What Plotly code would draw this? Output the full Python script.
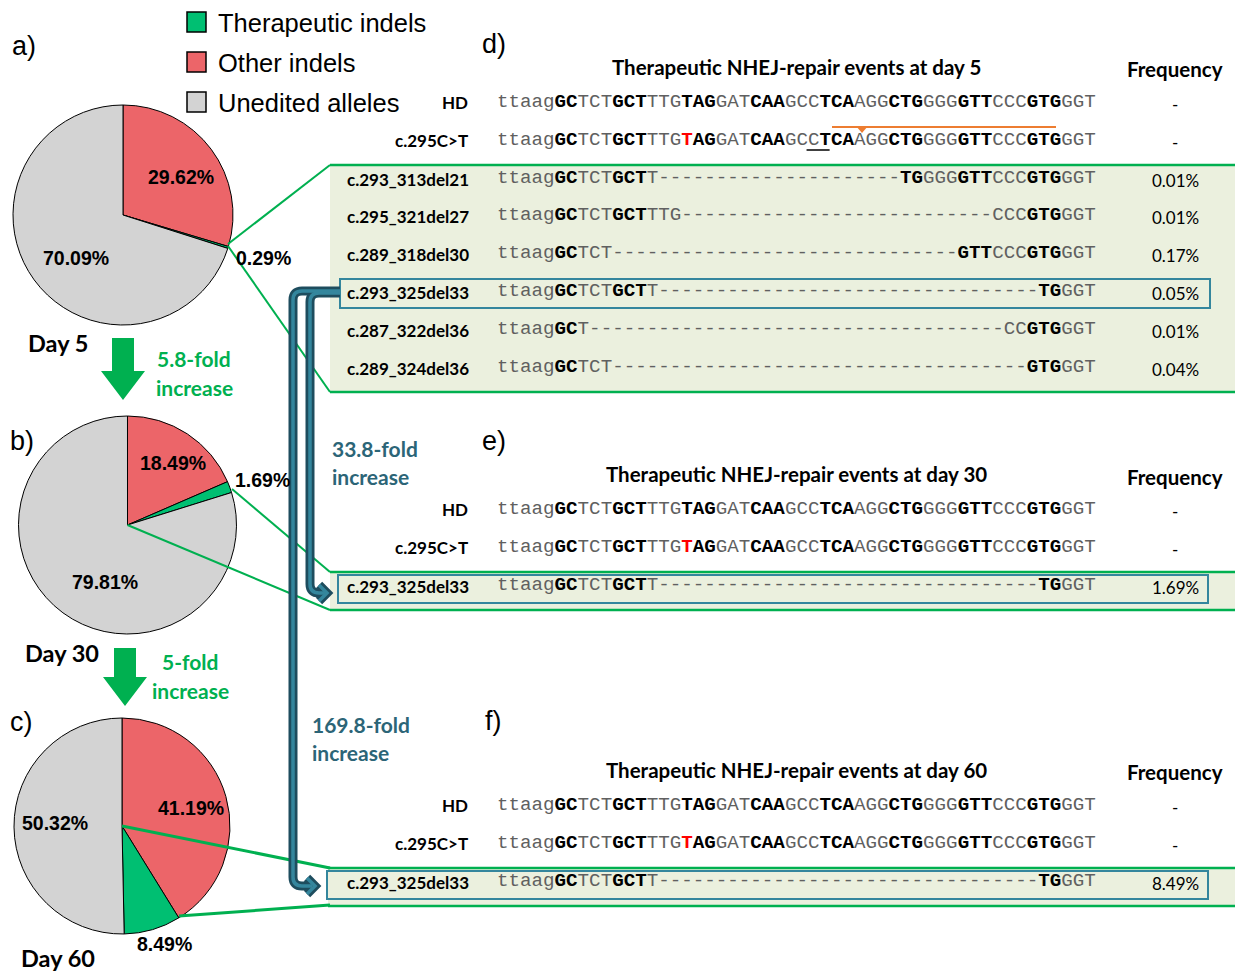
import plotly.graph_objects as go

# ---------------- data ----------------
slice_names = ["Other indels", "Therapeutic indels", "Unedited alleles"]
other_pct = [29.62, 18.49, 41.19]
thera_pct = [0.29, 1.69, 8.49]
unedited_pct = [70.09, 79.81, 50.32]
day_labels = ["Day 5", "Day 30", "Day 60"]
panel_letters = ["a)", "b)", "c)", "d)", "e)", "f)"]
legend_labels = ["Therapeutic indels", "Other indels", "Unedited alleles"]
fold_day_lines = [["5.8-fold", "increase"], ["5-fold", "increase"]]
fold_del33_lines = [["33.8-fold", "increase"], ["169.8-fold", "increase"]]

hd_seq = "ttaagGCTCTGCTTTGTAGGATCAAGCCTCAAGGCTGGGGGTTCCCGTGGGT"
mut_seq = "ttaagGCTCTGCTTTGTAGGATCAAGCCTCAAGGCTGGGGGTTCCCGTGGGT"
mut_pos = 16
ref_labels = ["HD", "c.295C>T"]
ref_freq = ["-", "-"]

d5_labels = ["c.293_313del21", "c.295_321del27", "c.289_318del30",
             "c.293_325del33", "c.287_322del36", "c.289_324del36"]
d5_seqs = [
    "ttaagGCTCTGCTT" + "-" * 21 + "TGGGGGTTCCCGTGGGT",
    "ttaagGCTCTGCTTTG" + "-" * 27 + "CCCGTGGGT",
    "ttaagGCTCT" + "-" * 30 + "GTTCCCGTGGGT",
    "ttaagGCTCTGCTT" + "-" * 33 + "TGGGT",
    "ttaagGCT" + "-" * 36 + "CCGTGGGT",
    "ttaagGCTCT" + "-" * 36 + "GTGGGT",
]
d5_freq = ["0.01%", "0.01%", "0.17%", "0.05%", "0.01%", "0.04%"]
del33_label = "c.293_325del33"
del33_seq = "ttaagGCTCTGCTT" + "-" * 33 + "TGGGT"
d30_freq = "1.69%"
d60_freq = "8.49%"
titles = ["Therapeutic NHEJ-repair events at day 5",
          "Therapeutic NHEJ-repair events at day 30",
          "Therapeutic NHEJ-repair events at day 60"]
freq_header = "Frequency"

# ---------------- styles ----------------
RED = "#EC6569"
GREEN = "#00BF72"
GREY = "#D3D3D3"
ARROW_GREEN = "#00B050"
TEAL_TXT = "#2C6577"
TEAL_DARK = "#1E4D5E"
TEAL_LIGHT = "#34869D"
BOX_FILL = "#EBF0DE"
SANS = "Liberation Sans"
CAL = "Lato"
MONO = "Liberation Mono"
W, H = 1235, 971

bold_spans = [(5, 7), (10, 13), (16, 19), (22, 25), (28, 31), (34, 37), (40, 43), (46, 49)]
bold_set = set()
for a, b in bold_spans:
    bold_set.update(range(a, b))


def seq_markup(seq, red_idx=None):
    parts = []
    cur_key, cur = None, ""
    for i, ch in enumerate(seq):
        if ch == "-":
            key = "reg"
        elif red_idx is not None and i == red_idx:
            key = "red"
        elif i in bold_set:
            key = "bold"
        else:
            key = "reg"
        if key != cur_key and cur:
            parts.append((cur_key, cur))
            cur = ""
        cur_key = key
        cur += ch
    parts.append((cur_key, cur))
    out = ""
    for k, t in parts:
        if k == "bold":
            out += "<b>" + t + "</b>"
        elif k == "red":
            out += "<span style='color:#FF0000'><b>" + t + "</b></span>"
        else:
            out += "<span style='color:#606060'>" + t + "</span>"
    return out


fig = go.Figure()

# ---------------- pies ----------------
pie_geo = [(123, 215, 110), (127.5, 525, 109), (122, 826, 108)]
for k, (cx, cy, r) in enumerate(pie_geo):
    fig.add_trace(go.Pie(
        values=[other_pct[k], thera_pct[k], unedited_pct[k]],
        labels=slice_names,
        sort=False, direction="clockwise", rotation=0,
        marker=dict(colors=[RED, GREEN, GREY], line=dict(color="black", width=1)),
        textinfo="none", hoverinfo="skip", showlegend=False,
        domain=dict(x=[(cx - r) / W, (cx + r) / W], y=[1 - (cy + r) / H, 1 - (cy - r) / H]),
    ))

fig.add_trace(go.Scatter(x=[0, W], y=[0, H], mode="markers", marker=dict(opacity=0),
                         hoverinfo="skip", showlegend=False))

shapes = []
ann = []


def text(x, y, s, size, family=SANS, color="black", xanchor="center", yanchor="middle", bold=False):
    ann.append(dict(x=x, y=y, xref="x", yref="y", text=("<b>%s</b>" % s) if bold else s,
                    showarrow=False, xanchor=xanchor, yanchor=yanchor,
                    font=dict(size=size, family=family, color=color)))


def line(x0, y0, x1, y1, color, width):
    shapes.append(dict(type="line", x0=x0, y0=y0, x1=x1, y1=y1, xref="x", yref="y",
                       line=dict(color=color, width=width)))


def rect(x0, y0, x1, y1, fill=None, color=None, width=0, layer="above"):
    shapes.append(dict(type="rect", x0=x0, y0=y0, x1=x1, y1=y1, xref="x", yref="y",
                       fillcolor=fill if fill else "rgba(0,0,0,0)",
                       line=dict(color=color if color else "rgba(0,0,0,0)", width=width),
                       layer=layer))


def path(p, color, width, fill=None):
    shapes.append(dict(type="path", path=p, xref="x", yref="y",
                       line=dict(color=color, width=width),
                       fillcolor=fill if fill else "rgba(0,0,0,0)"))


# ---------------- legend ----------------
leg_cols = [GREEN, RED, GREY]
for i, lab in enumerate(legend_labels):
    y = 22 + 40 * i
    rect(187, y - 10, 206, y + 10, fill=leg_cols[i], color="black", width=1.5)
    text(216, y + 1, lab, 25.5, xanchor="left")

# panel letters
for lab, (x, y) in zip(panel_letters, [(10, 46), (8, 441), (8, 722), (480, 44), (480, 441), (483, 721)]):
    text(x, y, lab, 27, xanchor="left")

# pie labels (order: other, therapeutic, unedited)
pct_pos = [[(181, 177), (263, 258), (76, 258)],
           [(173, 463), (262, 480), (105, 582)],
           [(191, 808), (164, 944), (55, 823)]]
for k in range(3):
    vals = [other_pct[k], thera_pct[k], unedited_pct[k]]
    for v, (x, y) in zip(vals, pct_pos[k]):
        text(x, y, "%.2f%%" % v, 19.5, bold=True)

for lab, (x, y) in zip(day_labels, [(58, 343), (62, 653), (58, 958)]):
    text(x, y, lab, 23.5, family=CAL, bold=True)

# green down arrows
for (sx, y0, tip) in [(112, 338, 400), (114, 648, 706)]:
    hy = tip - 29
    path("M %d %d L %d %d L %d %d L %d %d L %d %d L %d %d L %d %d Z" % (
        sx, y0, sx + 22, y0, sx + 22, hy, sx + 33, hy, sx + 11, tip, sx - 11, hy, sx, hy),
        ARROW_GREEN, 0, fill=ARROW_GREEN)

for lines_, (x, y) in zip(fold_day_lines, [(194, 358), (190, 661)]):
    text(x, y, lines_[0], 21, family=CAL, color=ARROW_GREEN, bold=True)
    text(x, y + 29, lines_[1], 21, family=CAL, color=ARROW_GREEN, bold=True)

for lines_, (x, y) in zip(fold_del33_lines, [(330, 448), (310, 724)]):
    text(x, y, lines_[0], 21, family=CAL, color=TEAL_TXT, xanchor="left", bold=True)
    text(x, y + 28, lines_[1], 21, family=CAL, color=TEAL_TXT, xanchor="left", bold=True)

# ---------------- tables ----------------
SEQ_X = 495
CH = 600 / 52.0
FREQ_X = 1175

rect(330, 165, W + 5, 392, fill=BOX_FILL, layer="below")
rect(330, 572, W + 5, 610, fill=BOX_FILL, layer="below")
rect(328, 868, W + 5, 906, fill=BOX_FILL, layer="below")
for (x0, y0, y1) in [(330, 165, 392), (330, 572, 610), (328, 868, 906)]:
    line(x0, y0, W + 5, y0, ARROW_GREEN, 2.5)
    line(x0, y1, W + 5, y1, ARROW_GREEN, 2.5)

rect(340, 279, 1210, 308, color=TEAL_LIGHT, width=2)
rect(338, 575, 1208, 603, color=TEAL_LIGHT, width=2)
rect(327, 871, 1208, 899, color=TEAL_LIGHT, width=2)

line(228, 244, 330, 165, ARROW_GREEN, 2)
line(228, 246, 330, 392, ARROW_GREEN, 2)
line(232, 489, 330, 572, ARROW_GREEN, 2)
line(127.5, 525, 330, 610, ARROW_GREEN, 2)
line(122, 826, 330, 868, ARROW_GREEN, 3)
line(179, 916, 330, 905, ARROW_GREEN, 3)

title_y = [67, 474, 770]
freq_y = [69, 477, 772]
ref_y = [(102, 140), (509, 547), (805, 843)]
for k in range(3):
    text(796, title_y[k], titles[k], 20.5, family=CAL, bold=True)
    text(FREQ_X, freq_y[k], freq_header, 20.5, family=CAL, bold=True)
    for j, (lab, fq) in enumerate(zip(ref_labels, ref_freq)):
        y = ref_y[k][j]
        text(470, y, lab, 17, family=CAL, xanchor="right", bold=True)
        s = hd_seq if j == 0 else mut_seq
        text(SEQ_X, y, seq_markup(s, None if j == 0 else mut_pos), 19.2, family=MONO, xanchor="left")
        text(FREQ_X, y + 2, fq, 17, family=CAL)

row_y5 = [179, 216, 254, 292, 330, 368]
for lab, s, fq, y in zip(d5_labels, d5_seqs, d5_freq, row_y5):
    text(345, y, lab, 17, family=CAL, xanchor="left", bold=True)
    text(SEQ_X, y - 1, seq_markup(s), 19.2, family=MONO, xanchor="left")
    text(FREQ_X, y + 1, fq, 17, family=CAL)

for y, fq in [(586, d30_freq), (882, d60_freq)]:
    text(345, y, del33_label, 17, family=CAL, xanchor="left", bold=True)
    text(SEQ_X, y - 1, seq_markup(del33_seq), 19.2, family=MONO, xanchor="left")
    text(FREQ_X, y + 1, fq, 17, family=CAL)

line(SEQ_X + 27 * CH, 150, SEQ_X + 29 * CH, 150, "black", 1.5)
line(832, 127, 1056, 127, "#ED7D31", 2)
path("M 856 126 L 868 126 L 862 133 Z", "#ED7D31", 0, fill="#ED7D31")

tube_paths = [
    "M 340 293 L 319 293 Q 310 293 310 302 L 310 584 Q 310 593 319 593 L 325 593",
    "M 340 291 L 302 291 Q 293 291 293 300 L 293 877 Q 293 886 302 886 L 312 886",
]
chevrons = ["M 319 585 L 327 593 L 319 601", "M 307 878 L 315 886 L 307 894"]
for p in tube_paths + chevrons:
    path(p, TEAL_DARK, 9)
for p in tube_paths + chevrons:
    path(p, TEAL_LIGHT, 3.5)

fig.update_layout(
    width=W, height=H, margin=dict(l=0, r=0, t=0, b=0),
    paper_bgcolor="white", plot_bgcolor="white",
    xaxis=dict(range=[0, W], visible=False, fixedrange=True),
    yaxis=dict(range=[H, 0], visible=False, fixedrange=True),
    shapes=shapes, annotations=ann, showlegend=False,
)
fig.write_html("out.html", config={"displayModeBar": False},
               post_script="document.body.style.margin='0px';document.body.style.overflow='hidden';")
